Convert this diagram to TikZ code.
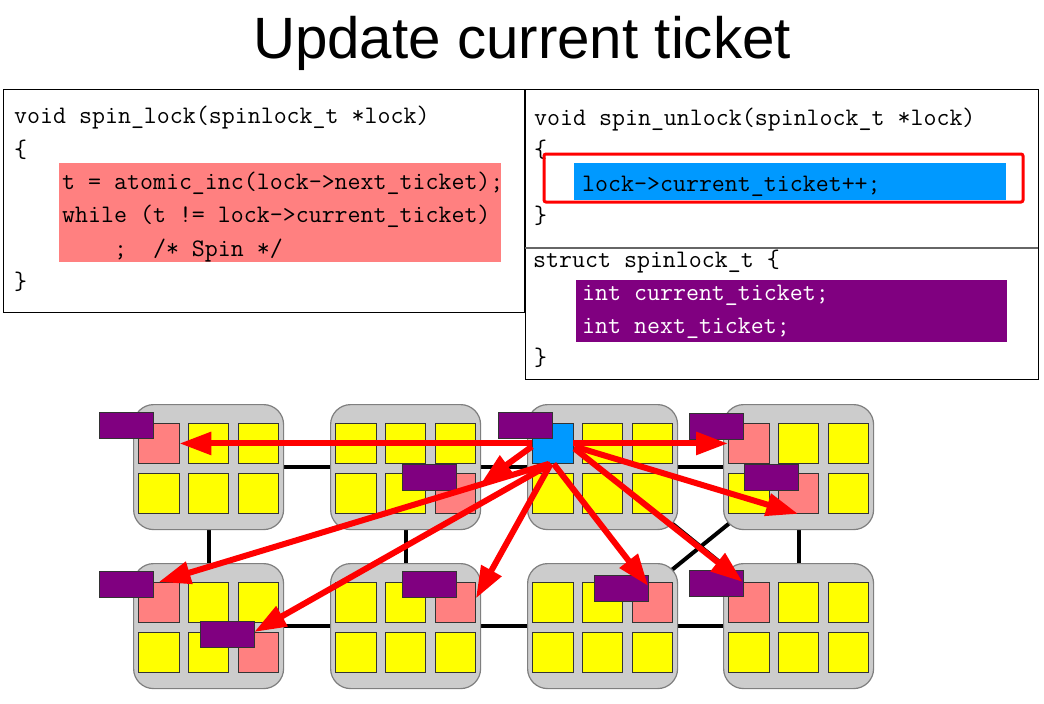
\documentclass[tikz,border=0pt]{standalone}
\usepackage{fontspec}
\newfontfamily\titlefont{Liberation Sans}
\usetikzlibrary{arrows.meta,calc,backgrounds}
\definecolor{chipgray}{HTML}{CCCCCC}
\definecolor{chipedge}{HTML}{7F7F7F}
\definecolor{salmon}{HTML}{FF8080}
\definecolor{hlblue}{HTML}{0099FF}
\definecolor{tagpurple}{HTML}{800080}
\definecolor{cellyellow}{HTML}{FFFF00}
\newcommand\mkchip[3]{%
  \node[chipbox] (#1) at (#2,#3) {};
  \foreach \c/\dx in {1/5,2/54.5,3/104.5}{%
    \foreach \r/\dy in {1/19,2/69}{%
      \node[cell, anchor=north west] (#1-\r\c) at ({#2+\dx},{#3+\dy}) {};
    }%
  }%
}
\begin{document}
\begin{tikzpicture}[x=1pt,y=-1pt,
  chipbox/.style={draw=chipedge, fill=chipgray, line width=1.2pt, rounded corners=20pt,
    minimum width=150pt, minimum height=125pt, inner sep=0pt, anchor=north west},
  cell/.style={draw=black!80, fill=cellyellow, line width=0.9pt, minimum width=40.5pt,
    minimum height=40pt, inner sep=0pt},
  tag/.style={draw=black!80, fill=tagpurple, line width=0.9pt, minimum width=54pt,
    minimum height=26pt, inner sep=0pt, anchor=north west},
  net/.style={line width=4pt, black},
  arr/.style={draw=red, line width=6pt, -{Triangle[length=32pt,width=22pt]}},
  code/.style={inner sep=0pt, anchor=base west, font=\fontsize{25.2}{33}\ttfamily\frenchspacing},
  codebox/.style={draw=black, line width=1.2pt, anchor=north west, inner sep=0pt},
  ]
\begin{scope}[on background layer]
\fill[white] (0,0) rectangle (1044,704);
\end{scope}
\useasboundingbox (0,0) rectangle (1044,704);

% title
\node[anchor=base, inner sep=0pt, font=\titlefont\fontsize{58.3}{60}\selectfont] (title) at (522,58) {Update current ticket};

% code boxes
\node[codebox, minimum width=521pt, minimum height=223pt] (lb) at (3,89) {};
\node[codebox, minimum width=513pt, minimum height=290pt] (rb) at (525,89) {};
\draw[line width=1.2pt, black!60] (525,248) -- (1038,248);

\fill[salmon] (59,163) rectangle (501,262);
\fill[hlblue] (574,163) rectangle (1006,200);
\fill[tagpurple] (576,280) rectangle (1007,342);

\node[code] (l1) at (14,123) {void spin\_lock(spinlock\_t *lock)};
\node[code] (l2) at (14,157) {\{};
\node[code] (l3) at (62,189) {t = atomic\_inc(lock->next\_ticket);};
\node[code] (l4) at (62,222) {while (t != lock->current\_ticket)};
\node[code] (l5) at (62,256) {\ \ \ \ ;\ \ /* Spin */};
\node[code] (l6) at (14,289) {\}};

\node[code] (r1) at (534,125) {void spin\_unlock(spinlock\_t *lock)};
\node[code] (r2) at (534,157) {\{};
\node[code] (r3) at (582,191) {lock->current\_ticket++;};
\node[code] (r4) at (534,223) {\}};
\node[code] (r5) at (533,267) {struct spinlock\_t \{};
\node[code, text=white] (r6) at (582,300) {int current\_ticket;};
\node[code, text=white] (r7) at (582,333) {int next\_ticket;};
\node[code] (r8) at (534,365) {\}};

\draw[red, line width=3pt, rounded corners=2pt] (544,154) rectangle (1023,202);

% chips
\mkchip{c1}{133}{404}
\mkchip{c2}{330}{404}
\mkchip{c3}{527}{404}
\mkchip{c4}{723}{404}
\mkchip{c5}{133}{563}
\mkchip{c6}{330}{563}
\mkchip{c7}{527}{563}
\mkchip{c8}{723}{563}

\begin{scope}[on background layer]
\draw[net] (c1) -- (c2);
\draw[net] (c2) -- (c3);
\draw[net] (c3) -- (c4);
\draw[net] (c5) -- (c6);
\draw[net] (c6) -- (c7);
\draw[net] (c7) -- (c8);
\draw[net] (c1) -- (c5);
\draw[net] (c2) -- (c6);
\draw[net] (c4) -- (c8);
\draw[net] (c4.center) -- (c7.center);
\draw[net] (c3.center) -- (c8.center);
\end{scope}

% highlighted cells
\node[cell, fill=salmon] (p1) at (c1-11.center) {};
\node[cell, fill=salmon] (p2) at (c2-23.center) {};
\node[cell, fill=hlblue] (blue) at (c3-11.center) {};
\node[cell, fill=salmon] (p4a) at (c4-11.center) {};
\node[cell, fill=salmon] (p4b) at (c4-22.center) {};
\node[cell, fill=salmon] (p5a) at (c5-11.center) {};
\node[cell, fill=salmon] (p5b) at (c5-23.center) {};
\node[cell, fill=salmon] (p6) at (c6-13.center) {};
\node[cell, fill=salmon] (p7) at (c7-13.center) {};
\node[cell, fill=salmon] (p8) at (c8-11.center) {};

% tags
\node[tag] (t1) at ($(p1.north west)+(-39,-11)$) {};
\node[tag] (t2) at ($(p2.north west)+(-33,-9)$) {};
\node[tag] (t3) at ($(blue.north west)+(-34,-11)$) {};
\node[tag] (t4a) at ($(p4a.north west)+(-39,-10)$) {};
\node[tag] (t4b) at ($(p4b.north west)+(-34,-9)$) {};
\node[tag] (t5a) at ($(p5a.north west)+(-39,-11)$) {};
\node[tag] (t5b) at ($(p5b.north west)+(-38,-11)$) {};
\node[tag] (t6) at ($(p6.north west)+(-33,-11)$) {};
\node[tag] (t7) at ($(p7.north west)+(-38,-7)$) {};
\node[tag] (t8) at ($(p8.north west)+(-39,-12)$) {};

% arrows
\draw[arr] (blue.west) -- (p1.east);
\draw[arr] (blue.east) -- (p4a.west);
\draw[arr] ($(blue.east)+(1,3)$) -- (p4b.south);
\draw[arr] ($(blue.east)+(1,5)$) -- ($(p8.north)+(-6,0)$);
\draw[arr] ($(blue.south)+(1,0)$) -- ($(p7.north)+(-4,4)$);
\draw[arr] ($(blue.south)+(-2,0)$) -- ($(p6.east)+(0,-4)$);
\draw[arr] ($(blue.south)+(-2,0)$) -- ($(p5b.north)+(-4,0)$);
\draw[arr] ($(blue.south)+(-4,0)$) -- (p5a.north);
\draw[arr] ($(blue.west)+(0,3)$) -- ($(p2.east)+(5,-10)$);
\end{tikzpicture}
\end{document}
